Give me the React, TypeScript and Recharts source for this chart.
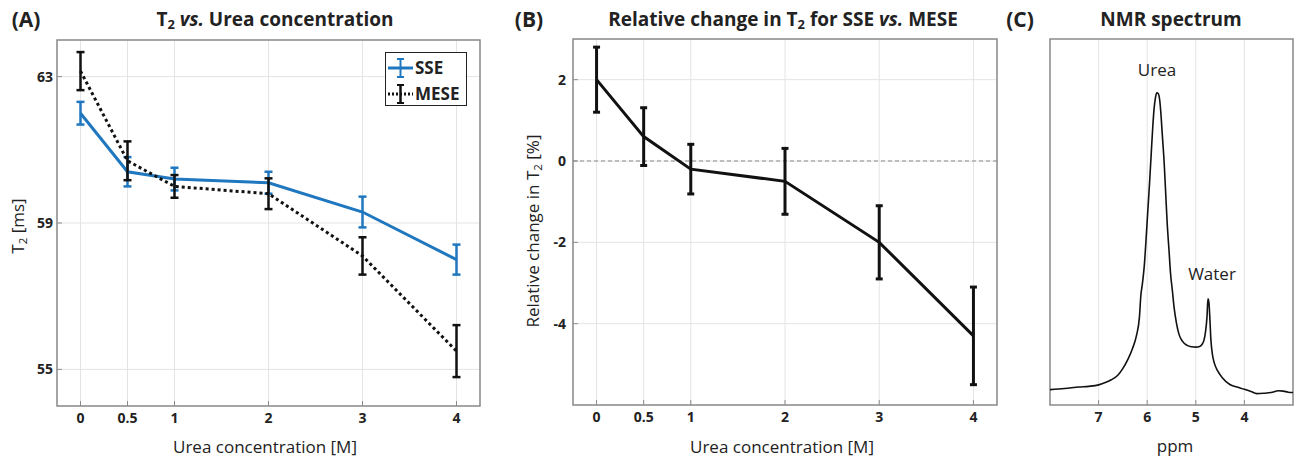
import React from "react";
import { LineChart, Line, XAxis, YAxis, CartesianGrid, ErrorBar, ReferenceArea, ReferenceLine } from "recharts";

// concentration axis shared by panels A and B
const concentrations = [0, 0.5, 1, 2, 3, 4];
const concTicks = [0, 0.5, 1, 2, 3, 4];

// (A) T2 per method, ms
const sseT2 = [62.0, 60.4, 60.2, 60.1, 59.3, 58.0];
const sseErr = [0.31, 0.4, 0.31, 0.3, 0.42, 0.41];
const meseT2 = [63.15, 60.7, 60.0, 59.8, 58.1, 55.5];
const meseErr = [0.52, 0.53, 0.31, 0.42, 0.51, 0.71];
const t2Ticks = [55, 59, 63];

// (B) relative change SSE vs MESE, %
const relChange = [2.0, 0.6, -0.2, -0.5, -2.0, -4.3];
const relErr = [0.8, 0.71, 0.61, 0.81, 0.9, 1.2];
const relTicks = [-4, -2, 0, 2];

// (C) NMR spectrum (arbitrary units)
const ppm = [
  8.0, 7.7, 7.4, 7.2, 7.0, 6.85, 6.74, 6.6, 6.5, 6.4, 6.3, 6.22, 6.16, 6.13, 6.1, 6.06, 6.02, 5.99, 5.95, 5.92,
  5.89, 5.86, 5.83, 5.8, 5.77, 5.74, 5.72, 5.69, 5.65, 5.62, 5.59, 5.55, 5.52, 5.48, 5.45, 5.4, 5.35, 5.28, 5.18,
  5.08, 5.0, 4.92, 4.87, 4.83, 4.8, 4.77, 4.75, 4.73, 4.71, 4.69, 4.66, 4.62, 4.55, 4.45, 4.3, 4.15, 4.0, 3.85,
  3.75, 3.6, 3.45, 3.3, 3.2, 3.1, 3.0,
];
const intensity = [
  4.2, 4.5, 4.9, 5.1, 5.5, 6.2, 6.9, 8.2, 10.0, 12.4, 15.5, 19, 24, 30, 33, 38, 46, 52.5, 61, 68,
  75, 80.7, 84, 85.3, 85, 83, 80, 74, 66, 58, 50, 42, 36, 31, 27, 22.5, 19.5, 17.5, 16.3,
  15.9, 15.8, 16, 16.6, 17.8, 20, 24, 29, 28, 23.5, 18, 14, 11.5, 9.3, 7.4, 5.6, 4.9, 4.3, 3.6,
  3.1, 3.2, 3.4, 3.9, 3.8, 3.5, 3.4,
];
const ppmTicks = [4, 5, 6, 7];

const t2Data = concentrations.map((c, i) => ({ c, sse: sseT2[i], sseErr: sseErr[i], mese: meseT2[i], meseErr: meseErr[i] }));
const relData = concentrations.map((c, i) => ({ c, rel: relChange[i], relErr: relErr[i] }));
const nmrData = ppm.map((p, i) => ({ p, v: intensity[i] }));

const FONT = '"Open Sans", sans-serif';
const TEXT = "#222";
const BOX = "#8c8c8c";
const GRID = "#e4e4e4";
const BLUE = "#1f77bf";
const tick = { fontSize: 14, fontWeight: 700, fill: TEXT, fontFamily: FONT };

function Txt({ x, y, size, bold, rotate, children }: any) {
  return (
    <div
      style={{
        position: "absolute",
        left: x,
        top: y,
        transform: `translate(-50%,-50%)${rotate ? " rotate(-90deg)" : ""}`,
        fontSize: size,
        fontWeight: bold ? 700 : 400,
        lineHeight: 1,
        whiteSpace: "nowrap",
        color: TEXT,
        fontFamily: FONT,
      }}
    >
      {children}
    </div>
  );
}

const Sub = ({ children }: any) => <sub style={{ fontSize: "0.68em", verticalAlign: "-0.3em", lineHeight: 0 }}>{children}</sub>;

function LegendBox() {
  return (
    <div
      style={{
        position: "absolute",
        left: 385,
        top: 52,
        width: 80,
        height: 52,
        border: "1px solid #222",
        background: "#fff",
        fontFamily: FONT,
        fontWeight: 700,
        fontSize: 17,
        color: TEXT,
      }}
    >
      <svg width={80} height={52} style={{ position: "absolute", left: 0, top: 0 }}>
        <line x1={2} x2={27} y1={15} y2={15} stroke={BLUE} strokeWidth={3} />
        <line x1={14.5} x2={14.5} y1={6} y2={24} stroke={BLUE} strokeWidth={2} />
        <line x1={11} x2={18} y1={6} y2={6} stroke={BLUE} strokeWidth={2} />
        <line x1={11} x2={18} y1={24} y2={24} stroke={BLUE} strokeWidth={2} />
        <line x1={2} x2={27} y1={41} y2={41} stroke="#111" strokeWidth={3} strokeDasharray="2 2" />
        <line x1={14.5} x2={14.5} y1={32} y2={50} stroke="#111" strokeWidth={2.5} />
        <line x1={11} x2={18} y1={32} y2={32} stroke="#111" strokeWidth={2} />
        <line x1={11} x2={18} y1={50} y2={50} stroke="#111" strokeWidth={2} />
      </svg>
      <div style={{ position: "absolute", left: 29, top: 5, lineHeight: "20px" }}>SSE</div>
      <div style={{ position: "absolute", left: 29, top: 31, lineHeight: "20px" }}>MESE</div>
    </div>
  );
}

export default function App() {
  return (
    <div style={{ position: "fixed", left: 0, top: 0, width: 1298, height: 460, background: "#fff", fontFamily: FONT }}>
      {/* (A) */}
      <div style={{ position: "absolute", left: 0, top: 0 }}>
        <LineChart width={490} height={460} data={t2Data} margin={{ top: 40, right: 10, bottom: 24, left: 0 }}>
          <CartesianGrid stroke={GRID} />
          <XAxis dataKey="c" type="number" domain={[-0.25, 4.25]} ticks={concTicks} allowDataOverflow height={30}
            axisLine={false} tickLine={{ stroke: BOX }} tickSize={-5} tickMargin={12} tick={tick} />
          <YAxis type="number" domain={[54, 64]} ticks={t2Ticks} allowDataOverflow width={57}
            axisLine={false} tickLine={{ stroke: BOX }} tickSize={-5} tickMargin={9} tick={tick} />
          <ReferenceArea x1={-0.25} x2={4.25} y1={54} y2={64} fill="none" stroke={BOX} strokeWidth={1.5} ifOverflow="visible" />
          <Line dataKey="sse" stroke={BLUE} strokeWidth={3} dot={false} isAnimationActive={false}>
            <ErrorBar dataKey="sseErr" direction="y" width={4} stroke={BLUE} strokeWidth={2.5} />
          </Line>
          <Line dataKey="mese" stroke="#111" strokeWidth={3} strokeDasharray="3 3" dot={false} isAnimationActive={false}>
            <ErrorBar dataKey="meseErr" direction="y" width={4} stroke="#111" strokeWidth={2.5} />
          </Line>
        </LineChart>
        <LegendBox />
      </div>
      <Txt x={26} y={19} size={21} bold>(A)</Txt>
      <Txt x={275} y={19} size={19} bold>
        T<Sub>2</Sub> <i>vs.</i> Urea concentration
      </Txt>
      <Txt x={17} y={226} size={17} rotate>
        T<Sub>2</Sub> [ms]
      </Txt>
      <Txt x={265} y={446} size={17}>Urea concentration [M]</Txt>

      {/* (B) */}
      <div style={{ position: "absolute", left: 490, top: 0 }}>
        <LineChart width={510} height={460} data={relData} margin={{ top: 39, right: 3, bottom: 25, left: 0 }}>
          <CartesianGrid stroke={GRID} />
          <XAxis dataKey="c" type="number" domain={[-0.25, 4.25]} ticks={concTicks} allowDataOverflow height={30}
            axisLine={false} tickLine={{ stroke: BOX }} tickSize={-5} tickMargin={12} tick={tick} />
          <YAxis type="number" domain={[-6, 3]} ticks={relTicks} allowDataOverflow width={83}
            axisLine={false} tickLine={{ stroke: BOX }} tickSize={-5} tickMargin={12} tick={tick} />
          <ReferenceLine y={0} stroke="#8a8a8a" strokeDasharray="4 3" strokeWidth={1.2} />
          <ReferenceArea x1={-0.25} x2={4.25} y1={-6} y2={3} fill="none" stroke={BOX} strokeWidth={1.5} ifOverflow="visible" />
          <Line dataKey="rel" stroke="#111" strokeWidth={3} dot={false} isAnimationActive={false}>
            <ErrorBar dataKey="relErr" direction="y" width={3.5} stroke="#111" strokeWidth={3} />
          </Line>
        </LineChart>
      </div>
      <Txt x={529} y={19} size={21} bold>(B)</Txt>
      <Txt x={783} y={19} size={19} bold>
        Relative change in T<Sub>2</Sub> for SSE <i>vs.</i> MESE
      </Txt>
      <Txt x={532} y={231} size={17} rotate>
        Relative change in T<Sub>2</Sub> [%]
      </Txt>
      <Txt x={782} y={446} size={17}>Urea concentration [M]</Txt>

      {/* (C) */}
      <div style={{ position: "absolute", left: 1000, top: 0 }}>
        <LineChart width={298} height={460} data={nmrData} margin={{ top: 39, right: 5, bottom: 25, left: 50 }}>
          <CartesianGrid stroke={GRID} horizontal={false} />
          <XAxis dataKey="p" type="number" domain={[3, 8]} reversed ticks={ppmTicks} allowDataOverflow height={30}
            axisLine={false} tickLine={{ stroke: BOX }} tickSize={-5} tickMargin={12} tick={tick} />
          <YAxis hide type="number" domain={[0, 100]} allowDataOverflow />
          <ReferenceArea x1={3} x2={8} y1={0} y2={100} fill="none" stroke={BOX} strokeWidth={1.5} ifOverflow="visible" />
          <Line dataKey="v" type="monotone" stroke="#111" strokeWidth={1.6} dot={false} isAnimationActive={false} />
        </LineChart>
      </div>
      <Txt x={1020} y={19} size={21} bold>(C)</Txt>
      <Txt x={1171} y={19} size={19} bold>NMR spectrum</Txt>
      <Txt x={1157} y={69} size={17}>Urea</Txt>
      <Txt x={1212} y={273} size={17}>Water</Txt>
      <Txt x={1175} y={445} size={17}>ppm</Txt>
    </div>
  );
}
